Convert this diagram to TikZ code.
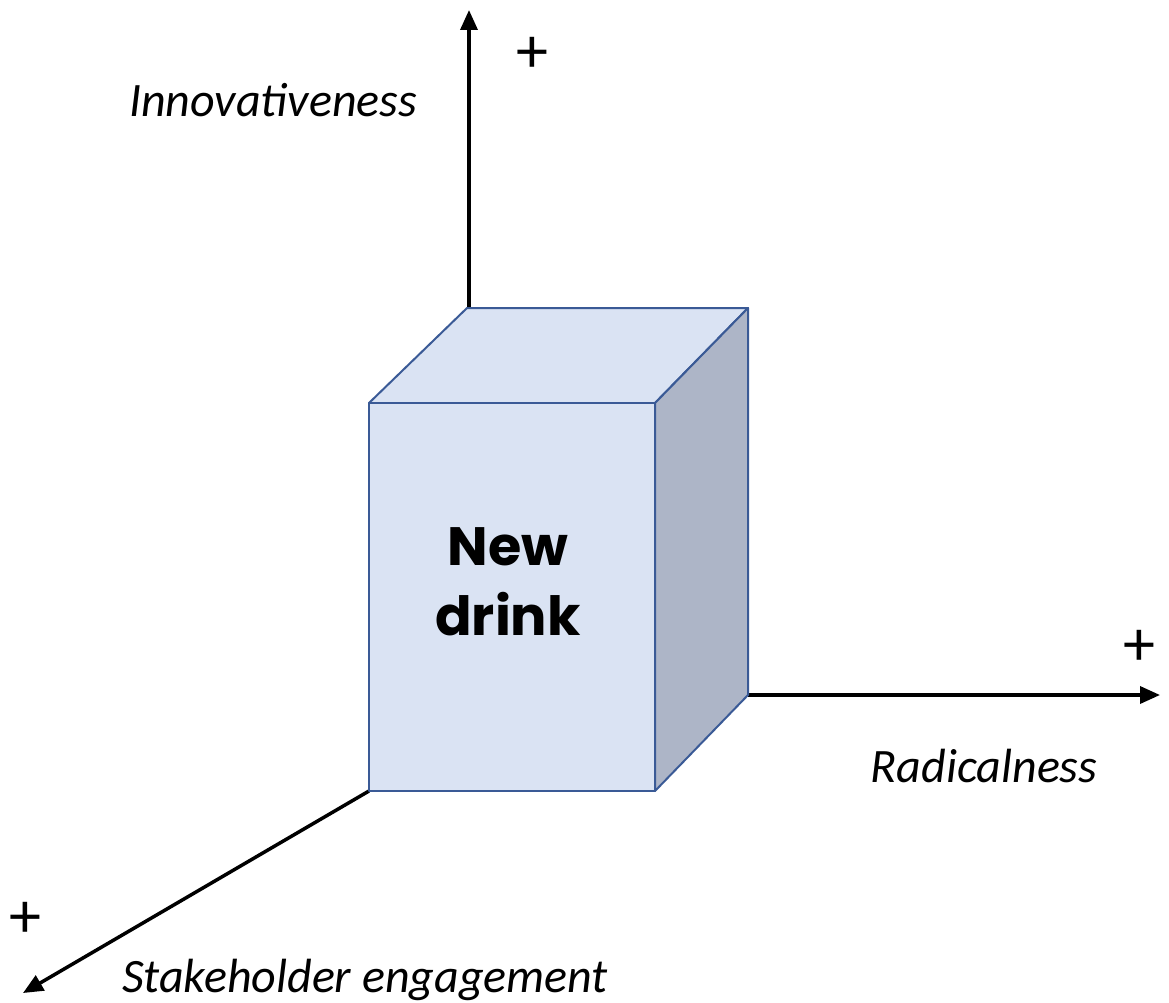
\documentclass[tikz,border=0pt]{standalone}
\usepackage{fontspec}
\setmainfont{Carlito}
\newfontfamily\boxfont{Poppins}
\usepackage{tikz}
\usetikzlibrary{arrows.meta}

\definecolor{edgeblue}{RGB}{58,90,150}
\definecolor{faceblue}{RGB}{218,227,243}
\definecolor{sidegrey}{RGB}{173,181,199}

\tikzset{
    axis/.style={line width=3.5pt, -{Triangle[length=20pt,width=17pt]}},
    face/.style={draw=edgeblue, line width=2pt, line join=round},
    axislabel/.style={font=\fontsize{48}{56}\selectfont\itshape},
    plus/.style={font=\fontsize{64}{70}\selectfont}
}

\begin{document}
\begin{tikzpicture}[x=1pt,y=-1pt]
    \useasboundingbox (0,0) rectangle (1169,1003);

    % Corners of the box
    \coordinate (ftl) at (369,403);
    \coordinate (ftr) at (655,403);
    \coordinate (fbl) at (369,791);
    \coordinate (fbr) at (655,791);
    \coordinate (btl) at (467,308);
    \coordinate (btr) at (748,308);
    \coordinate (bbr) at (748,695);

    % Axes
    \coordinate (vtop) at (469,308);
    \coordinate (vend) at (469,10);
    \coordinate (hend) at (1160,695);
    \coordinate (dend) at (23,993);
    \draw[axis] (vtop) -- (vend);
    \draw[axis] (bbr) -- (hend);
    \draw[axis] (fbl) -- (dend);

    % Box faces
    \filldraw[face, fill=faceblue] (ftl) -- (btl) -- (btr) -- (ftr) -- cycle;
    \filldraw[face, fill=sidegrey] (ftr) -- (btr) -- (bbr) -- (fbr) -- cycle;
    \filldraw[face, fill=faceblue] (ftl) rectangle (fbr);

    \node[font=\boxfont\bfseries\fontsize{54}{70}\selectfont, align=center] (drink)
        at (508,582) {New\\drink};

    % Labels
    \node[axislabel] (innov) at (273,100) {Innovativeness};
    \node[axislabel] (radic) at (984,766) {Radicalness};
    \node[axislabel] (stake) at (365,980) {Stakeholder engagement};
    \node[plus] (pv) at (532,55) {+};
    \node[plus] (ph) at (1139,648) {+};
    \node[plus] (pd) at (25,920) {+};
\end{tikzpicture}
\end{document}
